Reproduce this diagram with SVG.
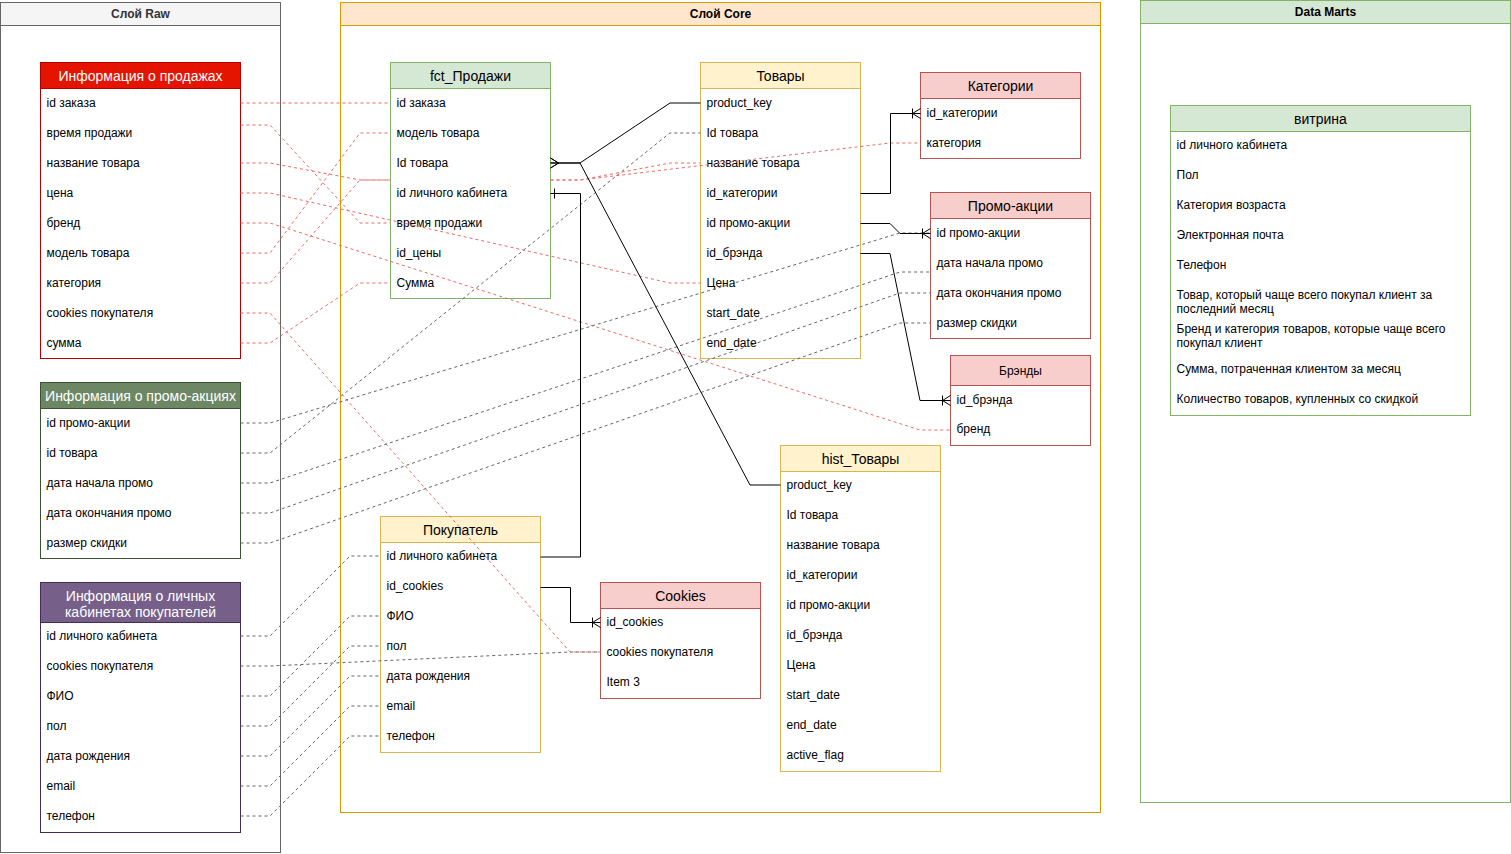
<svg xmlns="http://www.w3.org/2000/svg" width="1511" height="854" viewBox="0 0 1511 854">
  <style>
    text { font-family: "Liberation Sans", Arial, sans-serif; }
    .lt { font-size: 12px; font-weight: bold; text-anchor: middle; fill: #000; }
    .tt { font-size: 14px; text-anchor: middle; fill: #000; }
    .tw { fill: #ffffff; }
    .r { font-size: 12px; fill: #000; }
    .body { fill: #ffffff; }
    .red { stroke: #ea6b66; stroke-dasharray: 3 3; fill: none; }
    .gray { stroke: #666666; stroke-dasharray: 3 3; fill: none; }
    .er { stroke: #000000; fill: none; }
    .pink { fill: #f8cecc; stroke: #b85450; }
    .pinkb { stroke: #b85450; }
    .yel { fill: #fff2cc; stroke: #d6b656; }
    .yelb { stroke: #d6b656; }
    .grn { fill: #d5e8d4; stroke: #82b366; }
    .grnb { stroke: #82b366; }
  </style>
  <defs>
    <marker id="erMany" markerUnits="userSpaceOnUse" orient="auto" overflow="visible" markerWidth="1" markerHeight="1">
      <path d="M0,-5 L-8,0 L0,5" fill="none" stroke="#000"/>
    </marker>
    <marker id="erOneToMany" markerUnits="userSpaceOnUse" orient="auto" overflow="visible" markerWidth="1" markerHeight="1">
      <path d="M0,-5 L-8,0 L0,5 M-8,-5 V5" fill="none" stroke="#000"/>
    </marker>
    <marker id="erOne" markerUnits="userSpaceOnUse" orient="auto" overflow="visible" markerWidth="1" markerHeight="1">
      <path d="M-4,-5 V5" fill="none" stroke="#000"/>
    </marker>
  </defs>

  <rect width="1511" height="854" fill="#ffffff"/>

  <!-- layers -->
  <g id="layer-raw">
    <rect x="0.5" y="2.5" width="280" height="850" fill="#ffffff" stroke="#666666"/>
    <rect x="0.5" y="2.5" width="280" height="23" fill="#f5f5f5" stroke="#666666"/>
    <text x="140.5" y="18" class="lt" style="fill:#333333">Слой Raw</text>
  </g>
  <g id="layer-core">
    <rect x="340.5" y="2.5" width="760" height="810" fill="#ffffff" stroke="#d79b00"/>
    <rect x="340.5" y="2.5" width="760" height="23" fill="#ffe6cc" stroke="#d79b00"/>
    <text x="720.5" y="18" class="lt">Слой Core</text>
  </g>
  <g id="layer-marts">
    <rect x="1140.5" y="0.5" width="370" height="802" fill="#ffffff" stroke="#82b366"/>
    <rect x="1140.5" y="0.5" width="370" height="23" fill="#d5e8d4" stroke="#82b366"/>
    <text x="1325.5" y="16" class="lt">Data Marts</text>
  </g>

  <!-- raw tables -->
  <g id="raw-sales">
    <rect x="40.5" y="62.5" width="200" height="296" class="body" stroke="#b20000"/>
    <rect x="40.5" y="62.5" width="200" height="26" fill="#e51400" stroke="#b20000"/>
    <text x="140.5" y="80.5" class="tt tw">Информация о продажах</text>
    <text x="46.5" y="107" class="r">id заказа</text>
    <text x="46.5" y="137" class="r">время продажи</text>
    <text x="46.5" y="167" class="r">название товара</text>
    <text x="46.5" y="197" class="r">цена</text>
    <text x="46.5" y="227" class="r">бренд</text>
    <text x="46.5" y="257" class="r">модель товара</text>
    <text x="46.5" y="287" class="r">категория</text>
    <text x="46.5" y="317" class="r">cookies покупателя</text>
    <text x="46.5" y="347" class="r">сумма</text>
  </g>
  <g id="raw-promo">
    <rect x="40.5" y="382.5" width="200" height="176" class="body" stroke="#3a5431"/>
    <rect x="40.5" y="382.5" width="200" height="26" fill="#6d8764" stroke="#3a5431"/>
    <text x="140.5" y="400.5" class="tt tw">Информация о промо-акциях</text>
    <text x="46.5" y="427" class="r">id промо-акции</text>
    <text x="46.5" y="457" class="r">id товара</text>
    <text x="46.5" y="487" class="r">дата начала промо</text>
    <text x="46.5" y="517" class="r">дата окончания промо</text>
    <text x="46.5" y="547" class="r">размер скидки</text>
  </g>
  <g id="raw-accounts">
    <rect x="40.5" y="582.5" width="200" height="250" class="body" stroke="#432d57"/>
    <rect x="40.5" y="582.5" width="200" height="40" fill="#76608a" stroke="#432d57"/>
    <text x="140.5" y="600.5" class="tt tw">Информация о личных</text>
    <text x="140.5" y="617" class="tt tw">кабинетах покупателей</text>
    <text x="46.5" y="640" class="r">id личного кабинета</text>
    <text x="46.5" y="670" class="r">cookies покупателя</text>
    <text x="46.5" y="700" class="r">ФИО</text>
    <text x="46.5" y="730" class="r">пол</text>
    <text x="46.5" y="760" class="r">дата рождения</text>
    <text x="46.5" y="790" class="r">email</text>
    <text x="46.5" y="820" class="r">телефон</text>
  </g>

  <!-- core tables -->
  <g id="fct-sales">
    <rect x="390.5" y="62.5" width="160" height="236" class="body grnb"/>
    <rect x="390.5" y="62.5" width="160" height="26" class="grn"/>
    <text x="470.5" y="80.5" class="tt">fct_Продажи</text>
    <text x="396.5" y="107" class="r">id заказа</text>
    <text x="396.5" y="137" class="r">модель товара</text>
    <text x="396.5" y="167" class="r">Id товара</text>
    <text x="396.5" y="197" class="r">id личного кабинета</text>
    <text x="396.5" y="227" class="r">время продажи</text>
    <text x="396.5" y="257" class="r">id_цены</text>
    <text x="396.5" y="287" class="r">Сумма</text>
  </g>
  <g id="products">
    <rect x="700.5" y="62.5" width="160" height="296" class="body yelb"/>
    <rect x="700.5" y="62.5" width="160" height="26" class="yel"/>
    <text x="780.5" y="80.5" class="tt">Товары</text>
    <text x="706.5" y="107" class="r">product_key</text>
    <text x="706.5" y="137" class="r">Id товара</text>
    <text x="706.5" y="167" class="r">название товара</text>
    <text x="706.5" y="197" class="r">id_категории</text>
    <text x="706.5" y="227" class="r">id промо-акции</text>
    <text x="706.5" y="257" class="r">id_брэнда</text>
    <text x="706.5" y="287" class="r">Цена</text>
    <text x="706.5" y="317" class="r">start_date</text>
    <text x="706.5" y="347" class="r">end_date</text>
  </g>
  <g id="categories">
    <rect x="920.5" y="72.5" width="160" height="86" class="body pinkb"/>
    <rect x="920.5" y="72.5" width="160" height="26" class="pink"/>
    <text x="1000.5" y="90.5" class="tt">Категории</text>
    <text x="926.5" y="117" class="r">id_категории</text>
    <text x="926.5" y="147" class="r">категория</text>
  </g>
  <g id="promos">
    <rect x="930.5" y="192.5" width="160" height="146" class="body pinkb"/>
    <rect x="930.5" y="192.5" width="160" height="26" class="pink"/>
    <text x="1010.5" y="210.5" class="tt">Промо-акции</text>
    <text x="936.5" y="237" class="r">id промо-акции</text>
    <text x="936.5" y="267" class="r">дата начала промо</text>
    <text x="936.5" y="297" class="r">дата окончания промо</text>
    <text x="936.5" y="327" class="r">размер скидки</text>
  </g>
  <g id="brands">
    <rect x="950.5" y="355.5" width="140" height="90" class="body pinkb"/>
    <rect x="950.5" y="355.5" width="140" height="30" class="pink"/>
    <text x="1020.5" y="374.5" class="r" text-anchor="middle">Брэнды</text>
    <text x="956.5" y="404" class="r">id_брэнда</text>
    <text x="956.5" y="433" class="r">бренд</text>
  </g>
  <g id="hist-products">
    <rect x="780.5" y="445.5" width="160" height="326" class="body yelb"/>
    <rect x="780.5" y="445.5" width="160" height="26" class="yel"/>
    <text x="860.5" y="463.5" class="tt">hist_Товары</text>
    <text x="786.5" y="489" class="r">product_key</text>
    <text x="786.5" y="519" class="r">Id товара</text>
    <text x="786.5" y="549" class="r">название товара</text>
    <text x="786.5" y="579" class="r">id_категории</text>
    <text x="786.5" y="609" class="r">id промо-акции</text>
    <text x="786.5" y="639" class="r">id_брэнда</text>
    <text x="786.5" y="669" class="r">Цена</text>
    <text x="786.5" y="699" class="r">start_date</text>
    <text x="786.5" y="729" class="r">end_date</text>
    <text x="786.5" y="759" class="r">active_flag</text>
  </g>
  <g id="customer">
    <rect x="380.5" y="516.5" width="160" height="236" class="body yelb"/>
    <rect x="380.5" y="516.5" width="160" height="26" class="yel"/>
    <text x="460.5" y="534.5" class="tt">Покупатель</text>
    <text x="386.5" y="560" class="r">id личного кабинета</text>
    <text x="386.5" y="590" class="r">id_cookies</text>
    <text x="386.5" y="620" class="r">ФИО</text>
    <text x="386.5" y="650" class="r">пол</text>
    <text x="386.5" y="680" class="r">дата рождения</text>
    <text x="386.5" y="710" class="r">email</text>
    <text x="386.5" y="740" class="r">телефон</text>
  </g>
  <g id="cookies">
    <rect x="600.5" y="582.5" width="160" height="116" class="body pinkb"/>
    <rect x="600.5" y="582.5" width="160" height="26" class="pink"/>
    <text x="680.5" y="600.5" class="tt">Cookies</text>
    <text x="606.5" y="626" class="r">id_cookies</text>
    <text x="606.5" y="656" class="r">cookies покупателя</text>
    <text x="606.5" y="686" class="r">Item 3</text>
  </g>

  <!-- data mart -->
  <g id="showcase">
    <rect x="1170.5" y="105.5" width="300" height="310" class="body grnb"/>
    <rect x="1170.5" y="105.5" width="300" height="26" class="grn"/>
    <text x="1320.5" y="123.5" class="tt">витрина</text>
    <text x="1176.5" y="149" class="r">id личного кабинета</text>
    <text x="1176.5" y="179" class="r">Пол</text>
    <text x="1176.5" y="209" class="r">Категория возраста</text>
    <text x="1176.5" y="239" class="r">Электронная почта</text>
    <text x="1176.5" y="269" class="r">Телефон</text>
    <text x="1176.5" y="299" class="r">Товар, который чаще всего покупал клиент за</text>
    <text x="1176.5" y="312.5" class="r">последний месяц</text>
    <text x="1176.5" y="333" class="r">Бренд и категория товаров, которые чаще всего</text>
    <text x="1176.5" y="346.5" class="r">покупал клиент</text>
    <text x="1176.5" y="373" class="r">Сумма, потраченная клиентом за месяц</text>
    <text x="1176.5" y="403" class="r">Количество товаров, купленных со скидкой</text>
  </g>

  <!-- connectors -->
  <g id="connectors">
    <!-- raw sales to core -->
    <path class="red" d="M240.5,103 H390.5"/>
    <path class="red" d="M240.5,125 H270 L360,223 H390.5"/>
    <path class="red" d="M240.5,163 H270 L360,180 H390.5"/>
    <path class="red" d="M240.5,193 H270 L670,283 H700.5"/>
    <path class="red" d="M240.5,223 H270 L920,430 H950.5"/>
    <path class="red" d="M240.5,253 H270 L360,133 H390.5"/>
    <path class="red" d="M240.5,283 H270 L360,180 H390.5"/>
    <path class="red" d="M240.5,313 H270 L570,652 H600.5"/>
    <path class="red" d="M240.5,343 H270 L360,283 H390.5"/>
    <path class="red" d="M550.5,180 H580 L670,163 H700.5"/>
    <path class="red" d="M550.5,180 H580 L890,143 H920.5"/>
    <!-- raw promo to core -->
    <path class="gray" d="M240.5,423 H270 L900,233 H930.5"/>
    <path class="gray" d="M240.5,453 H270 L670,133 H700.5"/>
    <path class="gray" d="M240.5,483 H270 L900,272 H930.5"/>
    <path class="gray" d="M240.5,513 H270 L900,293 H930.5"/>
    <path class="gray" d="M240.5,543 H270 L900,323 H930.5"/>
    <!-- raw accounts to core -->
    <path class="gray" d="M240.5,636 H270 L350,556 H380.5"/>
    <path class="gray" d="M240.5,666 H270 L570,652 H600.5"/>
    <path class="gray" d="M240.5,696 H270 L350,616 H380.5"/>
    <path class="gray" d="M240.5,726 H270 L350,646 H380.5"/>
    <path class="gray" d="M240.5,756 H270 L350,676 H380.5"/>
    <path class="gray" d="M240.5,786 H270 L350,706 H380.5"/>
    <path class="gray" d="M240.5,816 H270 L350,736 H380.5"/>
    <!-- relations -->
    <path class="er" d="M700.5,103 H670 L580,163 H550.5" marker-end="url(#erMany)"/>
    <path class="er" d="M780.5,485 H750 L580,163 H550.5" marker-end="url(#erMany)"/>
    <path class="er" d="M540.5,557 H580.5 V193.5 H550.5" marker-end="url(#erOne)"/>
    <path class="er" d="M540.5,587.5 H570.5 V622.5 H600.5" marker-end="url(#erOneToMany)"/>
    <path class="er" d="M860.5,193.5 H890.5 V113.5 H920.5" marker-end="url(#erOneToMany)"/>
    <path class="er" d="M860.5,223.5 H890 L900,233.5 H930.5" marker-end="url(#erOneToMany)"/>
    <path class="er" d="M860.5,253.5 H890 L920,400.5 H950.5" marker-end="url(#erOneToMany)"/>
  </g>
</svg>
